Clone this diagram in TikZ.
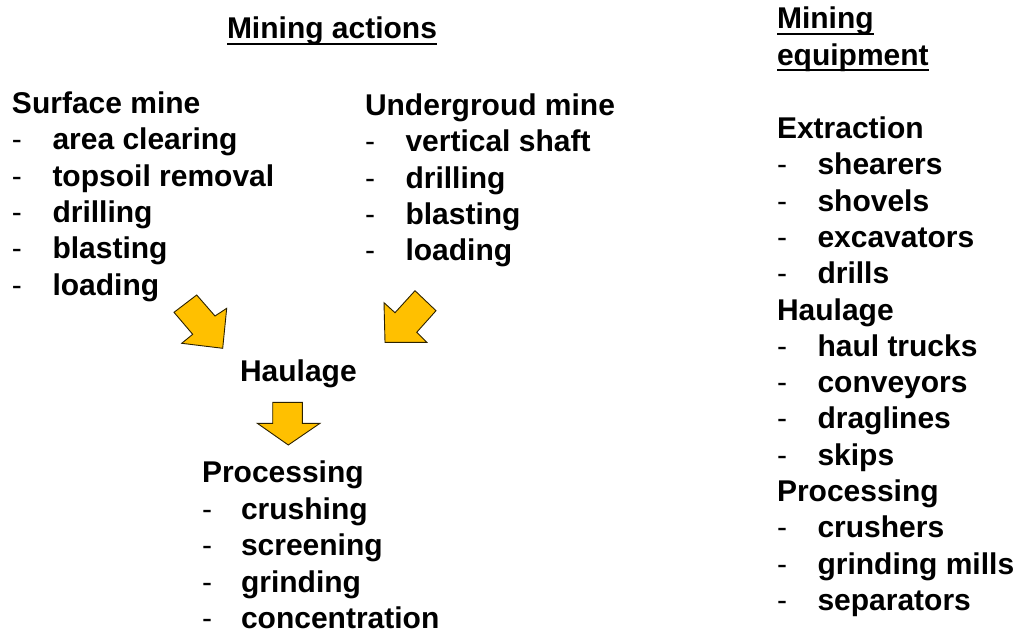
\documentclass[tikz,border=0pt]{standalone}
\usepackage{fontspec}
\setmainfont{Liberation Sans}
\definecolor{arrowfill}{HTML}{FFC000}
\definecolor{arrowline}{HTML}{2B2100}
\newcommand{\itm}[1]{\makebox[40.5pt][l]{\mdseries -}#1}
\newcommand{\itmb}[1]{\makebox[39pt][l]{\mdseries -}#1}
\begin{document}
\begin{tikzpicture}[x=1pt,y=-1pt,
  txt/.style={anchor=base west,inner sep=0pt,outer sep=0pt,font=\fontsize{30}{36}\selectfont\bfseries},
  uline/.style={line width=2.3pt,line cap=butt},
  blockarrow/.style={fill=arrowfill,draw=arrowline,line width=0.9pt,line join=miter}]
\useasboundingbox (0,0) rectangle (1019,634);
% title
\node[txt] (title) at (227,39) {Mining actions};
\draw[uline] ([yshift=-4.8pt]title.base west) -- ([yshift=-4.8pt]title.base east);
% surface mine
\node[txt] (sm) at (12,113.5) {Surface mine};
\node[txt] (sm1) at (12,149.8) {\itm{area clearing}};
\node[txt] (sm2) at (12,186.1) {\itm{topsoil removal}};
\node[txt] (sm3) at (12,222.4) {\itm{drilling}};
\node[txt] (sm4) at (12,258.7) {\itm{blasting}};
\node[txt] (sm5) at (12,295) {\itm{loading}};
% underground mine
\node[txt] (um) at (365,115.5) {Undergroud mine};
\node[txt] (um1) at (365,151.8) {\itm{vertical shaft}};
\node[txt] (um2) at (365,188.1) {\itm{drilling}};
\node[txt] (um3) at (365,224.4) {\itm{blasting}};
\node[txt] (um4) at (365,260.7) {\itm{loading}};
% haulage
\node[txt] (hl) at (240,381) {Haulage};
% processing
\node[txt] (pr) at (202,482.5) {Processing};
\node[txt] (pr1) at (202,519) {\itmb{crushing}};
\node[txt] (pr2) at (202,555.5) {\itmb{screening}};
\node[txt] (pr3) at (202,592) {\itmb{grinding}};
\node[txt] (pr4) at (202,628.5) {\itmb{concentration}};
% block arrows
\draw[blockarrow] (174,312.3) -- (196.7,295) -- (215,316) -- (226.7,308.3) -- (222.7,348.3) -- (181.7,343.3) -- (192.7,334.3) -- cycle;
\draw[blockarrow] (384,302.7) -- (395,312.7) -- (415,290.7) -- (436,310.7) -- (416.7,332.3) -- (426.7,342.3) -- (385,342.3) -- cycle;
\draw[blockarrow] (272.7,402.3) -- (302.3,402.3) -- (302.3,423.3) -- (320,423.3) -- (288.3,445) -- (257.3,423.3) -- (272.7,423.3) -- cycle;
% equipment column
\node[txt] (me1) at (777,29) {Mining\ };
\draw[uline] ([yshift=-4.8pt]me1.base west) -- ([yshift=-4.8pt]me1.base east);
\node[txt] (me2) at (777,65.5) {equipment};
\draw[uline] ([yshift=-4.8pt]me2.base west) -- ([yshift=-4.8pt]me2.base east);
\node[txt] (ex) at (777,138.5) {Extraction};
\node[txt] (ex1) at (777,174.8) {\itm{shearers}};
\node[txt] (ex2) at (777,211.1) {\itm{shovels}};
\node[txt] (ex3) at (777,247.4) {\itm{excavators}};
\node[txt] (ex4) at (777,283.7) {\itm{drills}};
\node[txt] (ha) at (777,320) {Haulage};
\node[txt] (ha1) at (777,356.3) {\itm{haul trucks}};
\node[txt] (ha2) at (777,392.6) {\itm{conveyors}};
\node[txt] (ha3) at (777,428.9) {\itm{draglines}};
\node[txt] (ha4) at (777,465.2) {\itm{skips}};
\node[txt] (pc) at (777,501.5) {Processing};
\node[txt] (pc1) at (777,537.8) {\itm{crushers}};
\node[txt] (pc2) at (777,574.1) {\itm{grinding mills}};
\node[txt] (pc3) at (777,610.4) {\itm{separators}};
\end{tikzpicture}
\end{document}
